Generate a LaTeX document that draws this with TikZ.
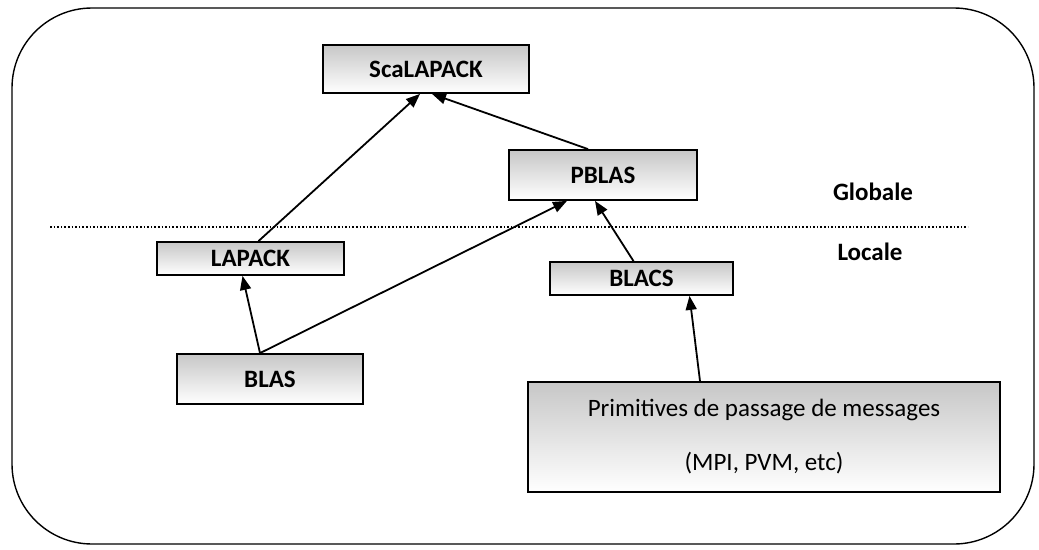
\documentclass[tikz,border=0pt]{standalone}
\usepackage{fontspec}
\setmainfont{Carlito}
\usetikzlibrary{arrows.meta}
\begin{document}
\begin{tikzpicture}[x=1pt,y=-1pt,
  layer/.style={draw=black, line width=1.8pt, top color=black!22, middle color=black!28, bottom color=white, inner sep=0pt, font=\fontsize{25}{30}\selectfont\bfseries},
  arr/.style={line width=1.8pt, -{Triangle[length=14pt,width=11pt]}},
  lbl/.style={font=\fontsize{25}{30}\selectfont\bfseries}]
\useasboundingbox (0,0) rectangle (1039,549);
\draw[line width=1.4pt, rounded corners=80pt] (12,8) rectangle (1034,544);
\node[layer, minimum width=206pt, minimum height=48pt] (sca) at (426,69) {ScaLAPACK};
\node[layer, minimum width=188pt, minimum height=50pt] (pblas) at (603,175) {PBLAS};
\node[layer, minimum width=187pt, minimum height=33pt] (lapack) at (250.5,258.5) {LAPACK};
\node[layer, minimum width=183pt, minimum height=33pt] (blacs) at (641.5,278.5) {BLACS};
\node[layer, minimum width=186pt, minimum height=50pt] (blas) at (270,379) {BLAS};
\node[layer, minimum width=472pt, minimum height=110pt, font=\fontsize{25}{30}\selectfont, align=center] (prim) at (764,437) {Primitives de passage de messages\\[24pt](MPI, PVM, etc)};
\node[lbl] (glob) at (873,192) {Globale};
\node[lbl] (loc) at (870,252) {Locale};
\coordinate (dl) at (50,227);
\coordinate (dr) at (968,227);
\draw[line width=1.6pt, dotted] (dl) -- (dr);
\draw[arr] ([xshift=8pt]lapack.north) -- ([xshift=-6pt]sca.south);
\draw[arr] ([xshift=-15pt]pblas.north) -- ([xshift=6pt]sca.south);
\draw[arr] ([xshift=-10pt]blas.north) -- ([xshift=-8pt]lapack.south);
\draw[arr] ([xshift=-10pt]blas.north) -- ([xshift=-36pt]pblas.south);
\draw[arr] ([xshift=-8pt]blacs.north) -- ([xshift=-8pt]pblas.south);
\draw[arr] ([xshift=-64pt]prim.north) -- ([xshift=48pt]blacs.south);
\end{tikzpicture}
\end{document}
